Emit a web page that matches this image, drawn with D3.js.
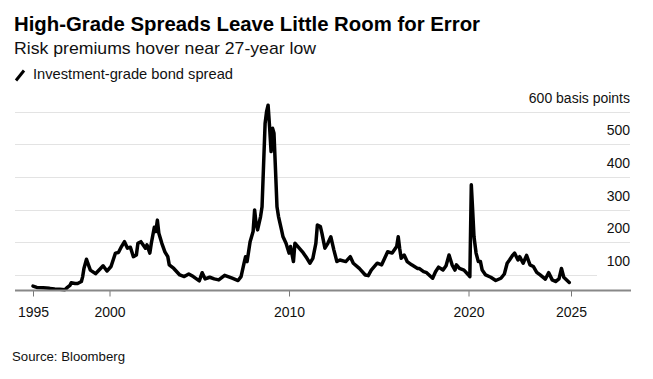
<!DOCTYPE html>
<html>
<head>
<meta charset="utf-8">
<script src="https://cdn.jsdelivr.net/npm/d3@7"></script>
<style>
  html, body { margin: 0; padding: 0; background: #fff; }
  svg { display: block; font-family: "Liberation Sans", Arial, sans-serif; }
</style>
</head>
<body>
<svg id="chart" width="653" height="379"></svg>
<script>
// ---- Data ----
const dates = [
  "1995-01","1995-04","1995-09","1996-02","1996-06","1996-10","1997-02","1997-04","1997-06","1997-07",
  "1997-10","1997-12","1998-03","1998-04","1998-05","1998-07","1998-08","1998-10","1999-02","1999-06",
  "1999-08","1999-11","2000-02","2000-05","2000-07","2000-09","2000-11","2001-01","2001-03","2001-05",
  "2001-07","2001-08","2001-10","2002-01","2002-02","2002-04","2002-05","2002-07","2002-08","2002-09",
  "2002-10","2002-12","2003-02","2003-04","2003-05","2003-08","2003-12","2004-03","2004-06","2004-09",
  "2005-01","2005-03","2005-05","2005-08","2005-11","2006-02","2006-06","2006-11","2007-03","2007-05",
  "2007-07","2007-08","2007-09","2007-11","2008-01","2008-02","2008-03","2008-04","2008-06","2008-07",
  "2008-09","2008-10","2008-11","2008-12","2009-01","2009-02","2009-03","2009-04","2009-05","2009-06",
  "2009-08","2009-09","2009-11","2010-01","2010-02","2010-04","2010-05","2010-07","2010-10","2011-01",
  "2011-03","2011-05","2011-07","2011-08","2011-10","2011-11","2012-01","2012-03","2012-05","2012-07",
  "2012-09","2012-11","2013-03","2013-06","2013-08","2013-12","2014-04","2014-06","2014-08","2014-12",
  "2015-03","2015-05","2015-07","2015-10","2016-01","2016-02","2016-03","2016-04","2016-06","2016-08",
  "2016-11","2017-03","2017-04","2017-07","2017-09","2018-01","2018-03","2018-05","2018-08","2018-10",
  "2018-12","2019-02","2019-04","2019-05","2019-07","2019-10","2020-01-01","2020-01-25","2020-02-20","2020-03-15",
  "2020-04-08","2020-05-15","2020-06-24","2020-08","2020-09","2020-11","2021-02","2021-05","2021-08","2021-10",
  "2021-11-20","2022-01","2022-03","2022-04","2022-06","2022-07","2022-09","2022-11","2023-01","2023-03",
  "2023-05","2023-07","2023-10","2023-12","2024-02","2024-04","2024-06","2024-07-15","2024-08-25","2024-10",
  "2024-12"
];
const spreadBps = [
  66,62,61,59,57,56,55,62,68,76,
  74,74,80,95,120,148,136,115,104,120,
  128,112,126,167,169,187,202,182,185,156,
  161,197,202,182,192,167,197,246,233,268,
  228,197,171,156,131,120,100,95,103,95,
  82,107,88,93,88,85,99,90,83,95,
  136,156,141,202,233,299,258,238,279,309,
  564,600,620,554,478,549,534,422,309,279,
  238,217,197,167,187,141,197,187,171,151,
  136,151,197,253,248,228,182,197,217,177,
  141,146,141,156,136,120,100,98,115,136,
  131,151,171,167,187,217,182,151,161,141,
  131,120,120,110,107,90,110,124,115,128,
  161,131,115,131,120,115,100,95,376,299,
  217,167,141,141,115,100,93,83,90,103,
  136,146,161,167,146,156,136,160,131,126,
  108,100,87,107,85,80,88,120,93,87,
  77
];
const yTicks = [100, 200, 300, 400, 500, 600];
const xTickYears = [1995, 2000, 2010, 2020, 2025];

// ---- Layout ----
const svg = d3.select("#chart");
const parse = s => s.length === 7 ? d3.timeParse("%Y-%m")(s) : d3.timeParse("%Y-%m-%d")(s);
const series = dates.map((d, i) => ({ date: parse(d), value: spreadBps[i] }));

const left = 15, right = 630;
const x = d3.scaleTime()
  .domain([new Date(1995,0,1), new Date(2000,0,1), new Date(2020,0,1), new Date(2025,0,1)])
  .range([33, 109.5, 468.5, 571]);
const y = d3.scaleLinear().domain([50, 600]).range([291.3, 111.7]);

// Titles
svg.append("text").attr("x", 14).attr("y", 31)
  .attr("font-size", 20.5).attr("font-weight", "bold").attr("fill", "#000")
  .attr("textLength", 466).attr("lengthAdjust", "spacingAndGlyphs")
  .text("High-Grade Spreads Leave Little Room for Error");
svg.append("text").attr("x", 14).attr("y", 54)
  .attr("font-size", 17).attr("fill", "#111")
  .attr("textLength", 302).attr("lengthAdjust", "spacingAndGlyphs")
  .text("Risk premiums hover near 27-year low");

// Legend
svg.append("line").attr("x1", 16).attr("y1", 80.5).attr("x2", 24).attr("y2", 70.5)
  .attr("stroke", "#000").attr("stroke-width", 3).attr("stroke-linecap", "butt");
svg.append("text").attr("x", 33).attr("y", 79)
  .attr("font-size", 14.5).attr("fill", "#111")
  .attr("textLength", 200).attr("lengthAdjust", "spacingAndGlyphs")
  .text("Investment-grade bond spread");

// Gridlines
svg.append("g").selectAll("line").data(yTicks).join("line")
  .attr("x1", left).attr("x2", d => d === 100 ? 597 : right)
  .attr("y1", d => Math.round(y(d)) + 0.5).attr("y2", d => Math.round(y(d)) + 0.5)
  .attr("stroke", "#e3e3e3").attr("stroke-width", 1);

// Y labels
svg.append("g").selectAll("text").data(yTicks).join("text")
  .attr("x", right).attr("y", d => y(d) - 9)
  .attr("text-anchor", "end").attr("font-size", 14).attr("fill", "#111")
  .text(d => d === 600 ? "600 basis points" : d);

// Line
const line = d3.line().x(d => x(d.date)).y(d => y(d.value)).curve(d3.curveLinear);
svg.append("path").datum(series)
  .attr("d", line).attr("fill", "none")
  .attr("stroke", "#000").attr("stroke-width", 3.5)
  .attr("stroke-linejoin", "round").attr("stroke-linecap", "round");

// X axis baseline + ticks
const xAxis = d3.axisBottom(x)
  .tickValues(xTickYears.map(yr => new Date(yr, 0, 1)))
  .tickFormat(d3.timeFormat("%Y"))
  .tickSize(6).tickSizeOuter(0);
const gx = svg.append("g").attr("transform", "translate(0,290.5)").call(xAxis);
gx.select(".domain").remove();
gx.selectAll(".tick line").attr("stroke", "#777").attr("stroke-width", 1);
gx.selectAll(".tick text").attr("font-size", 14).attr("fill", "#111")
  .attr("font-family", "Liberation Sans, Arial, sans-serif").attr("dy", "1.25em");
svg.append("line").attr("x1", left).attr("x2", right + 1)
  .attr("y1", 290.5).attr("y2", 290.5)
  .attr("stroke", "#888").attr("stroke-width", 2);

// Source
svg.append("text").attr("x", 12).attr("y", 361)
  .attr("font-size", 12).attr("fill", "#111")
  .attr("textLength", 113).attr("lengthAdjust", "spacingAndGlyphs")
  .text("Source: Bloomberg");
</script>
</body>
</html>
